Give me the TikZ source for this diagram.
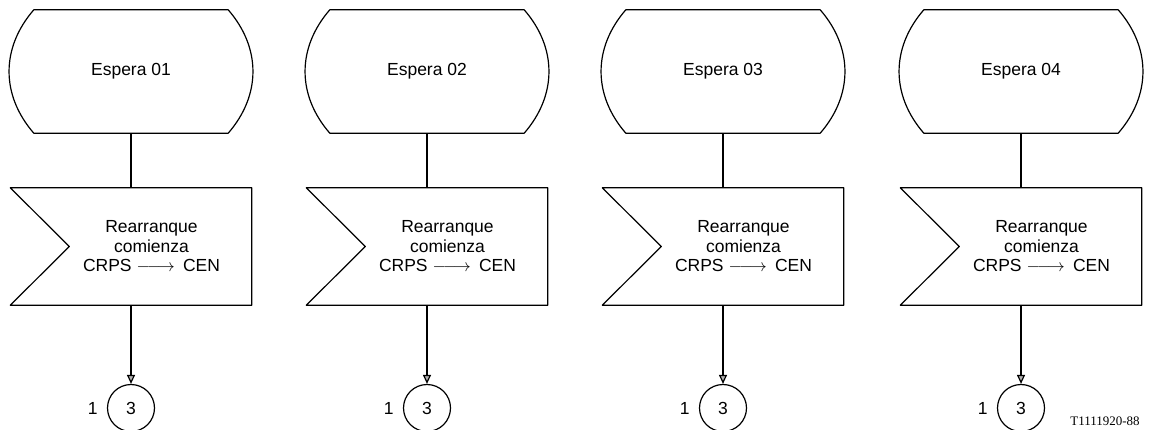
\documentclass[tikz,border=0pt]{standalone}
\usepackage{fontspec}
\setmainfont{Liberation Sans}
\newfontfamily\reffont{Liberation Serif}
\usetikzlibrary{positioning, arrows.meta, calc}
\tikzset{
  statebox/.style={
    minimum width=244pt, minimum height=123pt, inner sep=0pt,
    font=\fontsize{17.5}{20}\selectfont
  },
  inputbox/.style={
    minimum width=241pt, minimum height=117pt, inner sep=0pt
  },
  connbox/.style={
    draw, line width=1.2pt, circle, minimum size=47pt, inner sep=0pt,
    font=\fontsize{17.5}{20}\selectfont
  },
  outline/.style={line width=1.2pt, black, line join=round},
  signal/.style={-{Triangle[length=9pt, width=8pt, fill=gray!60]}, line width=1.2pt, black},
  wire/.style={line width=1.2pt, black}
}
% estado: lados curvos, arriba y abajo planos
\newcommand{\stateshape}[1]{
  \draw[outline] ($(#1.north west)+(25,0)$) -- ($(#1.north east)+(-25,0)$)
    .. controls ($(#1.north east)+(8,38)$) and ($(#1.south east)+(8,-38)$) .. ($(#1.south east)+(-25,0)$)
    -- ($(#1.south west)+(25,0)$)
    .. controls ($(#1.south west)+(-8,-38)$) and ($(#1.north west)+(-8,38)$) .. cycle;
}
% entrada: muesca a la izquierda
\newcommand{\inputshape}[1]{
  \draw[outline] (#1.north west) -- (#1.north east) -- (#1.south east) -- (#1.south west)
    -- ($(#1.west)+(59,0)$) -- cycle;
}
\newcommand{\drawcolumn}[3]{
  \node[statebox] (#2state) at (#1, 71.5) {#3};
  \stateshape{#2state}
  \node[inputbox] (#2in) at (#1, 246.5) {};
  \inputshape{#2in}
  \node[intext] (#2txt) at ($(#2in.center)+(20.5,0)$) {Rearranque\\comienza\\CRPS\hspace{5pt}$\relbar\joinrel\longrightarrow$\hspace{8pt}CEN};
  \node[connbox] (#2conn) at (#1, 408) {3};
  \node[numlbl, left=9pt of #2conn] (#2num) {1};
  \draw[wire] (#2state) -- (#2in);
  \draw[signal] (#2in) -- (#2conn);
}

\begin{document}
\begin{tikzpicture}[
  x=1pt, y=-1pt,
  intext/.style={font=\fontsize{17.5}{19.5}\selectfont, align=center, inner sep=0pt},
  numlbl/.style={font=\fontsize{17.5}{20}\selectfont, inner sep=0pt},
]
\useasboundingbox (0,0) rectangle (1151,430);

% Cuatro esperas
\drawcolumn{131}{a}{Espera 01}
\drawcolumn{427}{b}{Espera 02}
\drawcolumn{723}{c}{Espera 03}
\drawcolumn{1021}{d}{Espera 04}

% Referencia de figura
\node[font=\reffont\fontsize{13}{14}\selectfont, inner sep=0pt] (figref) at (1105, 421) {T1111920-88};

\end{tikzpicture}
\end{document}
